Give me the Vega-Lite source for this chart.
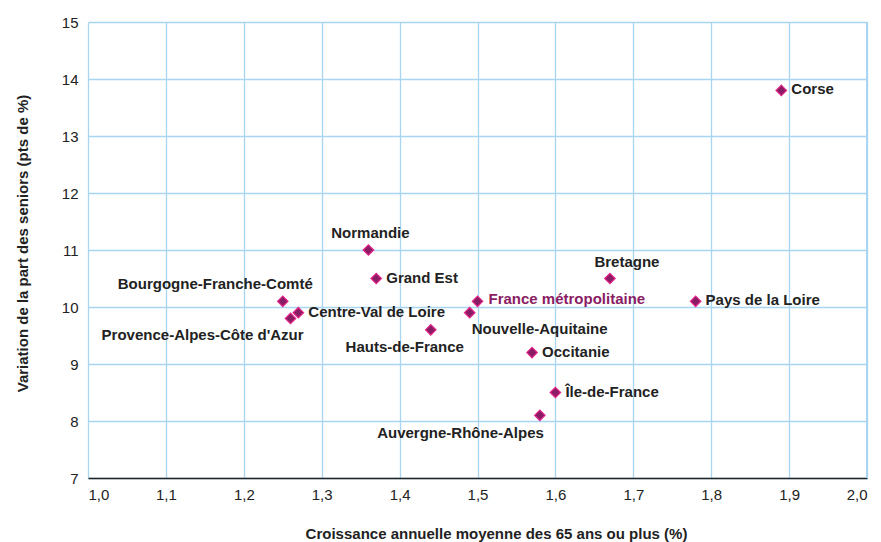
{
  "$schema": "https://vega.github.io/schema/vega-lite/v6.json",
  "width": 779,
  "height": 456,
  "autosize": "none",
  "padding": {"left": 88, "top": 22, "right": 14, "bottom": 64},
  "background": "white",
  "config": {
    "view": {"stroke": null},
    "font": "Liberation Sans",
    "axis": {"labelFont": "Liberation Sans", "titleFont": "Liberation Sans"}
  },
  "data": {
    "values": [
      {"region": "Corse", "croissance": 1.89, "variation": 13.8},
      {"region": "Normandie", "croissance": 1.36, "variation": 11.0},
      {"region": "Grand Est", "croissance": 1.37, "variation": 10.5},
      {"region": "Bretagne", "croissance": 1.67, "variation": 10.5},
      {"region": "Pays de la Loire", "croissance": 1.78, "variation": 10.1},
      {"region": "France métropolitaine", "croissance": 1.50, "variation": 10.1},
      {"region": "Bourgogne-Franche-Comté", "croissance": 1.25, "variation": 10.1},
      {"region": "Centre-Val de Loire", "croissance": 1.27, "variation": 9.9},
      {"region": "Provence-Alpes-Côte d'Azur", "croissance": 1.26, "variation": 9.8},
      {"region": "Nouvelle-Aquitaine", "croissance": 1.49, "variation": 9.9},
      {"region": "Hauts-de-France", "croissance": 1.44, "variation": 9.6},
      {"region": "Occitanie", "croissance": 1.57, "variation": 9.2},
      {"region": "Île-de-France", "croissance": 1.60, "variation": 8.5},
      {"region": "Auvergne-Rhône-Alpes", "croissance": 1.58, "variation": 8.1}
    ]
  },
  "encoding": {
    "x": {
      "field": "croissance", "type": "quantitative",
      "scale": {"domain": [1.0, 2.0], "nice": false, "zero": false},
      "axis": {
        "values": [1.0, 1.1, 1.2, 1.3, 1.4, 1.5, 1.6, 1.7, 1.8, 1.9, 2.0],
        "labelExpr": "replace(format(datum.value, '.1f'), '.', ',')",
        "title": "Croissance annuelle moyenne des 65 ans ou plus (%)",
        "titleFontSize": 15, "titleFontWeight": "bold", "titleColor": "#222222",
        "titleX": 408, "titleY": 55, "titleAlign": "center", "titleBaseline": "middle",
        "labelFontSize": 15, "labelColor": "#222222", "labelPadding": 9,
        "ticks": false, "domain": true, "domainColor": "#222222", "domainWidth": 1.5,
        "grid": true, "gridColor": "#a9d5f2", "gridWidth": 1.3
      }
    },
    "y": {
      "field": "variation", "type": "quantitative",
      "scale": {"domain": [7, 15], "nice": false, "zero": false},
      "axis": {
        "values": [7, 8, 9, 10, 11, 12, 13, 14, 15],
        "title": "Variation de la part des seniors (pts de %)",
        "titleFontSize": 15, "titleFontWeight": "bold", "titleColor": "#222222",
        "titleX": -66, "titleY": 221, "titleAngle": -90, "titleAlign": "center", "titleBaseline": "middle",
        "labelFontSize": 15, "labelColor": "#222222", "labelPadding": 10,
        "ticks": false, "domain": false,
        "grid": true, "gridColor": "#a9d5f2", "gridWidth": 1.3
      }
    }
  },
  "layer": [
    {
      "mark": {"type": "rule", "color": "#a9d5f2", "strokeWidth": 1.3},
      "encoding": {"x": {"datum": 2.0}, "y": {"datum": 7}, "y2": {"datum": 15}}
    },
    {
      "mark": {"type": "point", "shape": "diamond", "filled": true, "size": 110, "fill": "#8a1c63", "stroke": "#e5258a", "strokeWidth": 1.2, "opacity": 1}
    },
    {
      "transform": [{"filter": {"field": "region", "oneOf": ["Corse", "Grand Est", "Pays de la Loire", "Centre-Val de Loire", "Occitanie", "Île-de-France"]}}],
      "mark": {"type": "text", "align": "left", "baseline": "middle", "dx": 10, "dy": -1, "fontSize": 15, "fontWeight": "bold", "color": "#222222"},
      "encoding": {"text": {"field": "region"}}
    },
    {
      "transform": [{"filter": {"field": "region", "equal": "France métropolitaine"}}],
      "mark": {"type": "text", "align": "left", "baseline": "middle", "dx": 11, "dy": -2, "fontSize": 15, "fontWeight": "bold", "color": "#8a1c63"},
      "encoding": {"text": {"field": "region"}}
    },
    {
      "transform": [{"filter": {"field": "region", "equal": "Normandie"}}],
      "mark": {"type": "text", "align": "center", "baseline": "middle", "dx": 2, "dy": -17, "fontSize": 15, "fontWeight": "bold", "color": "#222222"},
      "encoding": {"text": {"field": "region"}}
    },
    {
      "transform": [{"filter": {"field": "region", "equal": "Bretagne"}}],
      "mark": {"type": "text", "align": "center", "baseline": "middle", "dx": 17, "dy": -17, "fontSize": 15, "fontWeight": "bold", "color": "#222222"},
      "encoding": {"text": {"field": "region"}}
    },
    {
      "transform": [{"filter": {"field": "region", "equal": "Bourgogne-Franche-Comté"}}],
      "mark": {"type": "text", "align": "right", "baseline": "middle", "dx": 30, "dy": -17, "fontSize": 15, "fontWeight": "bold", "color": "#222222"},
      "encoding": {"text": {"field": "region"}}
    },
    {
      "transform": [{"filter": {"field": "region", "equal": "Provence-Alpes-Côte d'Azur"}}],
      "mark": {"type": "text", "align": "right", "baseline": "middle", "dx": 13, "dy": 17, "fontSize": 15, "fontWeight": "bold", "color": "#222222"},
      "encoding": {"text": {"field": "region"}}
    },
    {
      "transform": [{"filter": {"field": "region", "equal": "Hauts-de-France"}}],
      "mark": {"type": "text", "align": "center", "baseline": "middle", "dx": -26, "dy": 17, "fontSize": 15, "fontWeight": "bold", "color": "#222222"},
      "encoding": {"text": {"field": "region"}}
    },
    {
      "transform": [{"filter": {"field": "region", "equal": "Nouvelle-Aquitaine"}}],
      "mark": {"type": "text", "align": "left", "baseline": "middle", "dx": 2, "dy": 16, "fontSize": 15, "fontWeight": "bold", "color": "#222222"},
      "encoding": {"text": {"field": "region"}}
    },
    {
      "transform": [{"filter": {"field": "region", "equal": "Auvergne-Rhône-Alpes"}}],
      "mark": {"type": "text", "align": "right", "baseline": "middle", "dx": 4, "dy": 18, "fontSize": 15, "fontWeight": "bold", "color": "#222222"},
      "encoding": {"text": {"field": "region"}}
    }
  ]
}
